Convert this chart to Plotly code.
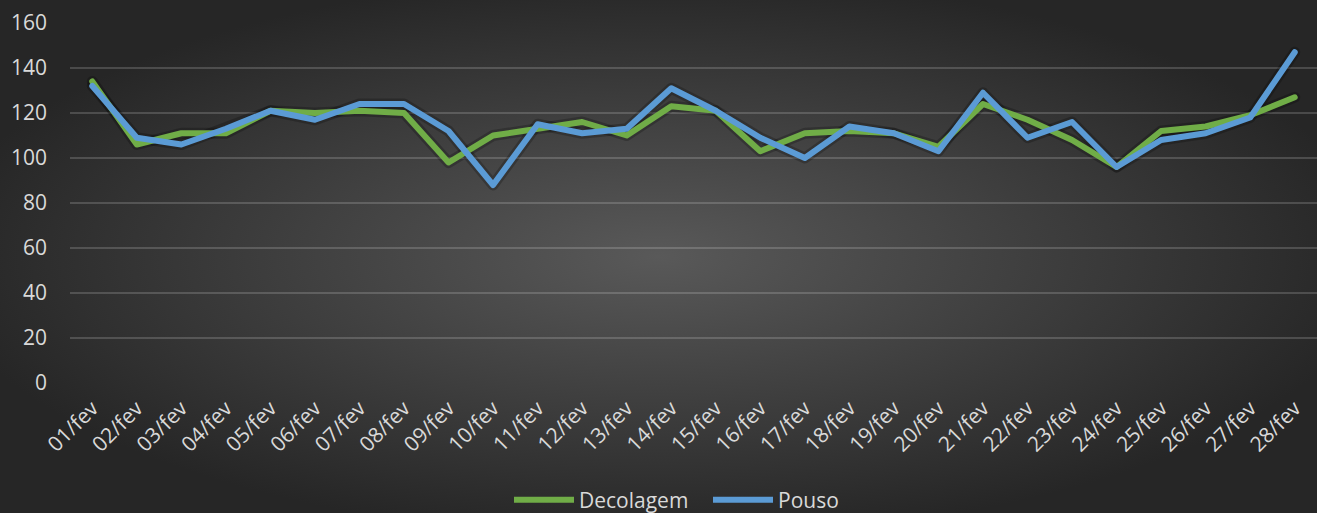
import plotly.graph_objects as go
import urllib.parse

dias = [f"{d:02d}/fev" for d in range(1, 29)]
decolagem = [134, 106, 111, 111, 121, 120, 121, 120, 98, 110, 113, 116, 110, 123, 121,
             103, 111, 112, 111, 105, 124, 117, 108, 96, 112, 114, 119, 127]
pouso = [132, 109, 106, 113, 121, 117, 124, 124, 112, 88, 115, 111, 113, 131, 121,
         109, 100, 114, 111, 103, 129, 109, 116, 96, 108, 111, 118, 147]
y_ticks = [0, 20, 40, 60, 80, 100, 120, 140, 160]

W, H = 1317, 513
ML, MR, MT, MB = 70, 0, 23, 130
svg = f'''<svg xmlns="http://www.w3.org/2000/svg" width="{W}" height="{H}" viewBox="0 0 {W} {H}" preserveAspectRatio="none">
<defs><radialGradient id="g" cx="50%" cy="50%" r="55%" gradientUnits="objectBoundingBox">
<stop offset="0" stop-color="#595959"/><stop offset="1" stop-color="#262626"/></radialGradient></defs>
<rect width="{W}" height="{H}" fill="url(#g)"/></svg>'''
bg = "data:image/svg+xml;charset=utf-8," + urllib.parse.quote(svg)

fig = go.Figure()
# soft shadows under the lines
for vals in (decolagem, pouso):
    fig.add_trace(go.Scatter(x=dias, y=vals, mode="lines", showlegend=False, hoverinfo="skip",
                             line=dict(color="rgba(0,0,0,0.22)", width=11)))
fig.add_trace(go.Scatter(x=dias, y=decolagem, mode="lines", name="Decolagem",
                         line=dict(color="#70AD47", width=6)))
fig.add_trace(go.Scatter(x=dias, y=pouso, mode="lines", name="Pouso",
                         line=dict(color="#5B9BD5", width=6)))

pw, ph = W - ML - MR, H - MT - MB
fig.add_layout_image(dict(source=bg, xref="paper", yref="paper",
                          x=-ML / pw, y=1 + MT / ph, sizex=W / pw, sizey=H / ph,
                          xanchor="left", yanchor="top",
                          sizing="stretch", layer="below"))

fam = "Open Sans, Noto Sans, sans-serif"
fig.update_layout(
    width=W, height=H,
    margin=dict(l=ML, r=MR, t=MT, b=MB, autoexpand=False),
    paper_bgcolor="#2e2e2e",
    plot_bgcolor="rgba(0,0,0,0)",
    font=dict(family=fam, size=20, color="#D9D9D9"),
    showlegend=True,
    legend=dict(orientation="h", x=(515 - 6) / W, xanchor="left", xref="container",
                y=(H - 500) / H, yanchor="middle", yref="container",
                font=dict(family=fam, size=21, color="#D9D9D9"),
                bgcolor="rgba(0,0,0,0)", itemwidth=60, entrywidth=124, tracegroupgap=0),
    xaxis=dict(type="category", tickangle=-45, showgrid=False, zeroline=False,
               showline=False, ticks="", range=[-0.5, 27.5], automargin=False,
               ticklabelstandoff=8,
               tickfont=dict(family=fam, size=21, color="#D9D9D9")),
    yaxis=dict(range=[0, 160], tickvals=y_ticks, showgrid=True, automargin=False,
               gridcolor="rgba(255,255,255,0.17)", gridwidth=1.5, zeroline=False,
               showline=False, ticks="", ticklabelstandoff=22,
               tickfont=dict(family=fam, size=21, color="#D9D9D9")),
)

fig.write_html("out.html", config={"displayModeBar": False},
               post_script="document.body.style.margin='0';document.body.style.overflow='hidden';"
                           "document.querySelectorAll('.scatterlayer path.js-line').forEach(p=>{p.style.strokeLinejoin='round';p.style.strokeLinecap='round';});")
